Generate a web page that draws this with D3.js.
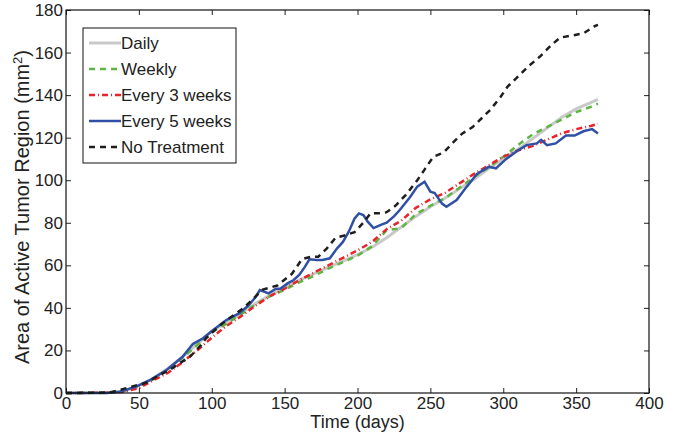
<!DOCTYPE html>
<html>
<head>
<meta charset="utf-8">
<script src="https://cdn.jsdelivr.net/npm/d3@7"></script>
<style>
  body { margin: 0; background: #fff; }
  svg text { font-family: "Liberation Sans", Arial, sans-serif; fill: #222; }
</style>
</head>
<body>
<div id="chart"></div>
<script>
// shared day grid for the smoother series
const gridDays = [0, 30, 40, 50, 60, 70, 80, 90, 100, 110, 120, 130, 140, 150, 160, 170, 180, 190, 200,
  210, 220, 230, 240, 250, 260, 270, 280, 290, 300, 310, 320, 330, 340, 350, 360, 365];

const dailyVals = [0, 0.2, 1, 3.5, 7, 11.5, 17, 23, 29, 33, 37.5, 42, 46, 49.5, 53, 56, 59, 62, 65,
  68.5, 73, 78, 83, 87.5, 91.5, 96, 100.5, 105.5, 110, 114.5, 119.5, 124.5, 129.5, 133.5, 136.5, 138];

const weeklyVals = [0, 0.2, 1, 3, 6.5, 11, 16.5, 22.5, 28.5, 32.5, 37, 41.5, 45.5, 48.5, 52, 55, 58.5, 61.5, 64.5,
  69, 76.5, 77.5, 84, 88, 91.5, 96.5, 101.5, 106, 111, 116.5, 121.5, 125, 128.5, 132, 134.5, 136];

const every3Vals = [0, 0.1, 0.6, 2.3, 6, 9.5, 14.5, 20, 26, 31.5, 36, 41, 45.5, 49, 53, 56.5, 60, 63.5, 67,
  71, 77, 81, 87, 91, 94, 98.5, 103, 107, 111, 114, 116, 119, 122, 124, 125.5, 126.5];

const every5Days = [0, 28, 37, 48, 58, 69, 80, 87, 94, 101, 110, 119, 125, 130, 133, 139, 144, 147, 152, 156,
  160, 164, 167, 172, 176, 181, 186, 190, 194, 198, 201, 204, 207, 211, 216, 220, 225, 229, 236, 241, 246,
  250, 253, 258, 261, 268, 275, 282, 290, 295, 302, 310, 316, 323, 326, 330, 336, 343, 349, 355, 361, 365];
const every5Vals = [0, 0, 0.6, 3, 6.2, 10.8, 17, 23, 25.7, 29.6, 34.3, 37.5, 41, 45, 48.4, 46.8, 49, 49, 51.5, 53,
  55.5, 59.4, 62.8, 62.5, 62.5, 63.3, 68, 71, 75.8, 82, 84.4, 83.6, 80.5, 77.5, 79, 80, 83, 86, 92, 97, 99.3,
  94.6, 94, 89, 87.5, 90.7, 97, 103, 106.3, 105.6, 110, 114, 116.5, 117.3, 119, 116.5, 117.3, 121, 121, 123, 124, 122];

const noTreatDays = [0, 30, 37, 45, 55, 63, 71, 78, 85, 92, 96, 106, 115, 122, 128, 135, 145, 155, 162, 168,
  173, 179, 185, 191, 198, 204, 209, 215, 220, 226, 233, 241, 246, 252, 259, 266, 272, 279, 285, 291, 298,
  303, 309, 318, 325, 333, 339, 347, 355, 363, 365];
const noTreatVals = [0, 0.2, 1.4, 3, 4.8, 8, 10.8, 14, 17, 22, 25.7, 32, 36.6, 40, 44, 48.6, 50.5, 56, 63, 64,
  64, 68, 73, 74, 75.6, 80, 84.5, 84.5, 85, 88, 93, 100, 105, 111, 113, 118, 122, 125, 129, 133, 139,
  144, 148, 154, 158, 163.5, 167, 168, 169, 172.5, 173];

const seriesNames = ['Daily', 'Weekly', 'Every 3 weeks', 'Every 5 weeks', 'No Treatment'];
const xTicks = [0, 50, 100, 150, 200, 250, 300, 350, 400];
const yTicks = [0, 20, 40, 60, 80, 100, 120, 140, 160, 180];

const width = 685, height = 435;
const margin = { top: 10, right: 36, bottom: 42, left: 66 };

const svg = d3.select('#chart').append('svg')
  .attr('width', width)
  .attr('height', height);

const x = d3.scaleLinear().domain([0, 400]).range([margin.left, width - margin.right]);
const y = d3.scaleLinear().domain([0, 180]).range([height - margin.bottom, margin.top]);

const series = [
  { name: seriesNames[0], days: gridDays, vals: dailyVals, color: '#c9c9c9', w: 3, dash: null },
  { name: seriesNames[1], days: gridDays, vals: weeklyVals, color: '#5db641', w: 2.5, dash: '6,5' },
  { name: seriesNames[2], days: gridDays, vals: every3Vals, color: '#e8232b', w: 2.5, dash: '6,3,1,3' },
  { name: seriesNames[3], days: every5Days, vals: every5Vals, color: '#3050a6', w: 2.5, dash: null },
  { name: seriesNames[4], days: noTreatDays, vals: noTreatVals, color: '#1e1e1e', w: 2.5, dash: '6,5' }
];

const line = d3.line()
  .x(d => x(d[0]))
  .y(d => y(d[1]));

series.forEach(s => {
  const pts = s.days.map((d, i) => [d, s.vals[i]]);
  svg.append('path')
    .datum(pts)
    .attr('fill', 'none')
    .attr('stroke', s.color)
    .attr('stroke-width', s.w)
    .attr('stroke-dasharray', s.dash)
    .attr('d', line);
});

// axes box with inward ticks on all four sides
const x0 = margin.left, x1 = width - margin.right;
const y0 = height - margin.bottom, y1 = margin.top;
const tickLen = 5;

svg.append('g').attr('transform', `translate(0,${y0})`)
  .call(d3.axisBottom(x).tickValues(xTicks).tickSize(-tickLen).tickPadding(4))
  .call(g => g.select('.domain').remove());
svg.append('g').attr('transform', `translate(0,${y1})`)
  .call(d3.axisTop(x).tickValues(xTicks).tickSize(-tickLen).tickFormat(''))
  .call(g => g.select('.domain').remove());
svg.append('g').attr('transform', `translate(${x0},0)`)
  .call(d3.axisLeft(y).tickValues(yTicks).tickSize(-tickLen).tickPadding(3))
  .call(g => g.select('.domain').remove());
svg.append('g').attr('transform', `translate(${x1},0)`)
  .call(d3.axisRight(y).tickValues(yTicks).tickSize(-tickLen).tickFormat(''))
  .call(g => g.select('.domain').remove());

svg.selectAll('.tick line').attr('stroke', '#222').attr('stroke-width', 1);
svg.selectAll('.tick text').style('font-size', '17px').attr('fill', '#222');

svg.append('rect')
  .attr('x', x0).attr('y', y1)
  .attr('width', x1 - x0).attr('height', y0 - y1)
  .attr('fill', 'none')
  .attr('stroke', '#111')
  .attr('stroke-width', 1.2);

// axis labels
svg.append('text')
  .attr('x', (x0 + x1) / 2)
  .attr('y', 428)
  .attr('text-anchor', 'middle')
  .style('font-size', '18px')
  .text('Time (days)');

const yl = svg.append('text')
  .attr('transform', `translate(29,207) rotate(-90)`)
  .attr('text-anchor', 'middle')
  .style('font-size', '20px');
yl.append('tspan').text('Area of Active Tumor Region (mm');
yl.append('tspan').text('2').attr('dy', -7).style('font-size', '13px');
yl.append('tspan').text(')').attr('dy', 7);

// legend
const legend = svg.append('g');
legend.append('rect')
  .attr('x', 83).attr('y', 28)
  .attr('width', 153).attr('height', 135)
  .attr('fill', '#fff')
  .attr('stroke', '#111')
  .attr('stroke-width', 1);

const rowY = d3.scalePoint().domain(seriesNames).range([43, 147]);

series.forEach(s => {
  const ly = rowY(s.name);
  legend.append('line')
    .attr('x1', 89).attr('x2', 121)
    .attr('y1', ly).attr('y2', ly)
    .attr('stroke', s.color)
    .attr('stroke-width', s.w)
    .attr('stroke-dasharray', s.dash);
  legend.append('text')
    .attr('x', 121)
    .attr('y', ly)
    .attr('dy', '0.36em')
    .style('font-size', '17px')
    .text(s.name);
});
</script>
</body>
</html>
